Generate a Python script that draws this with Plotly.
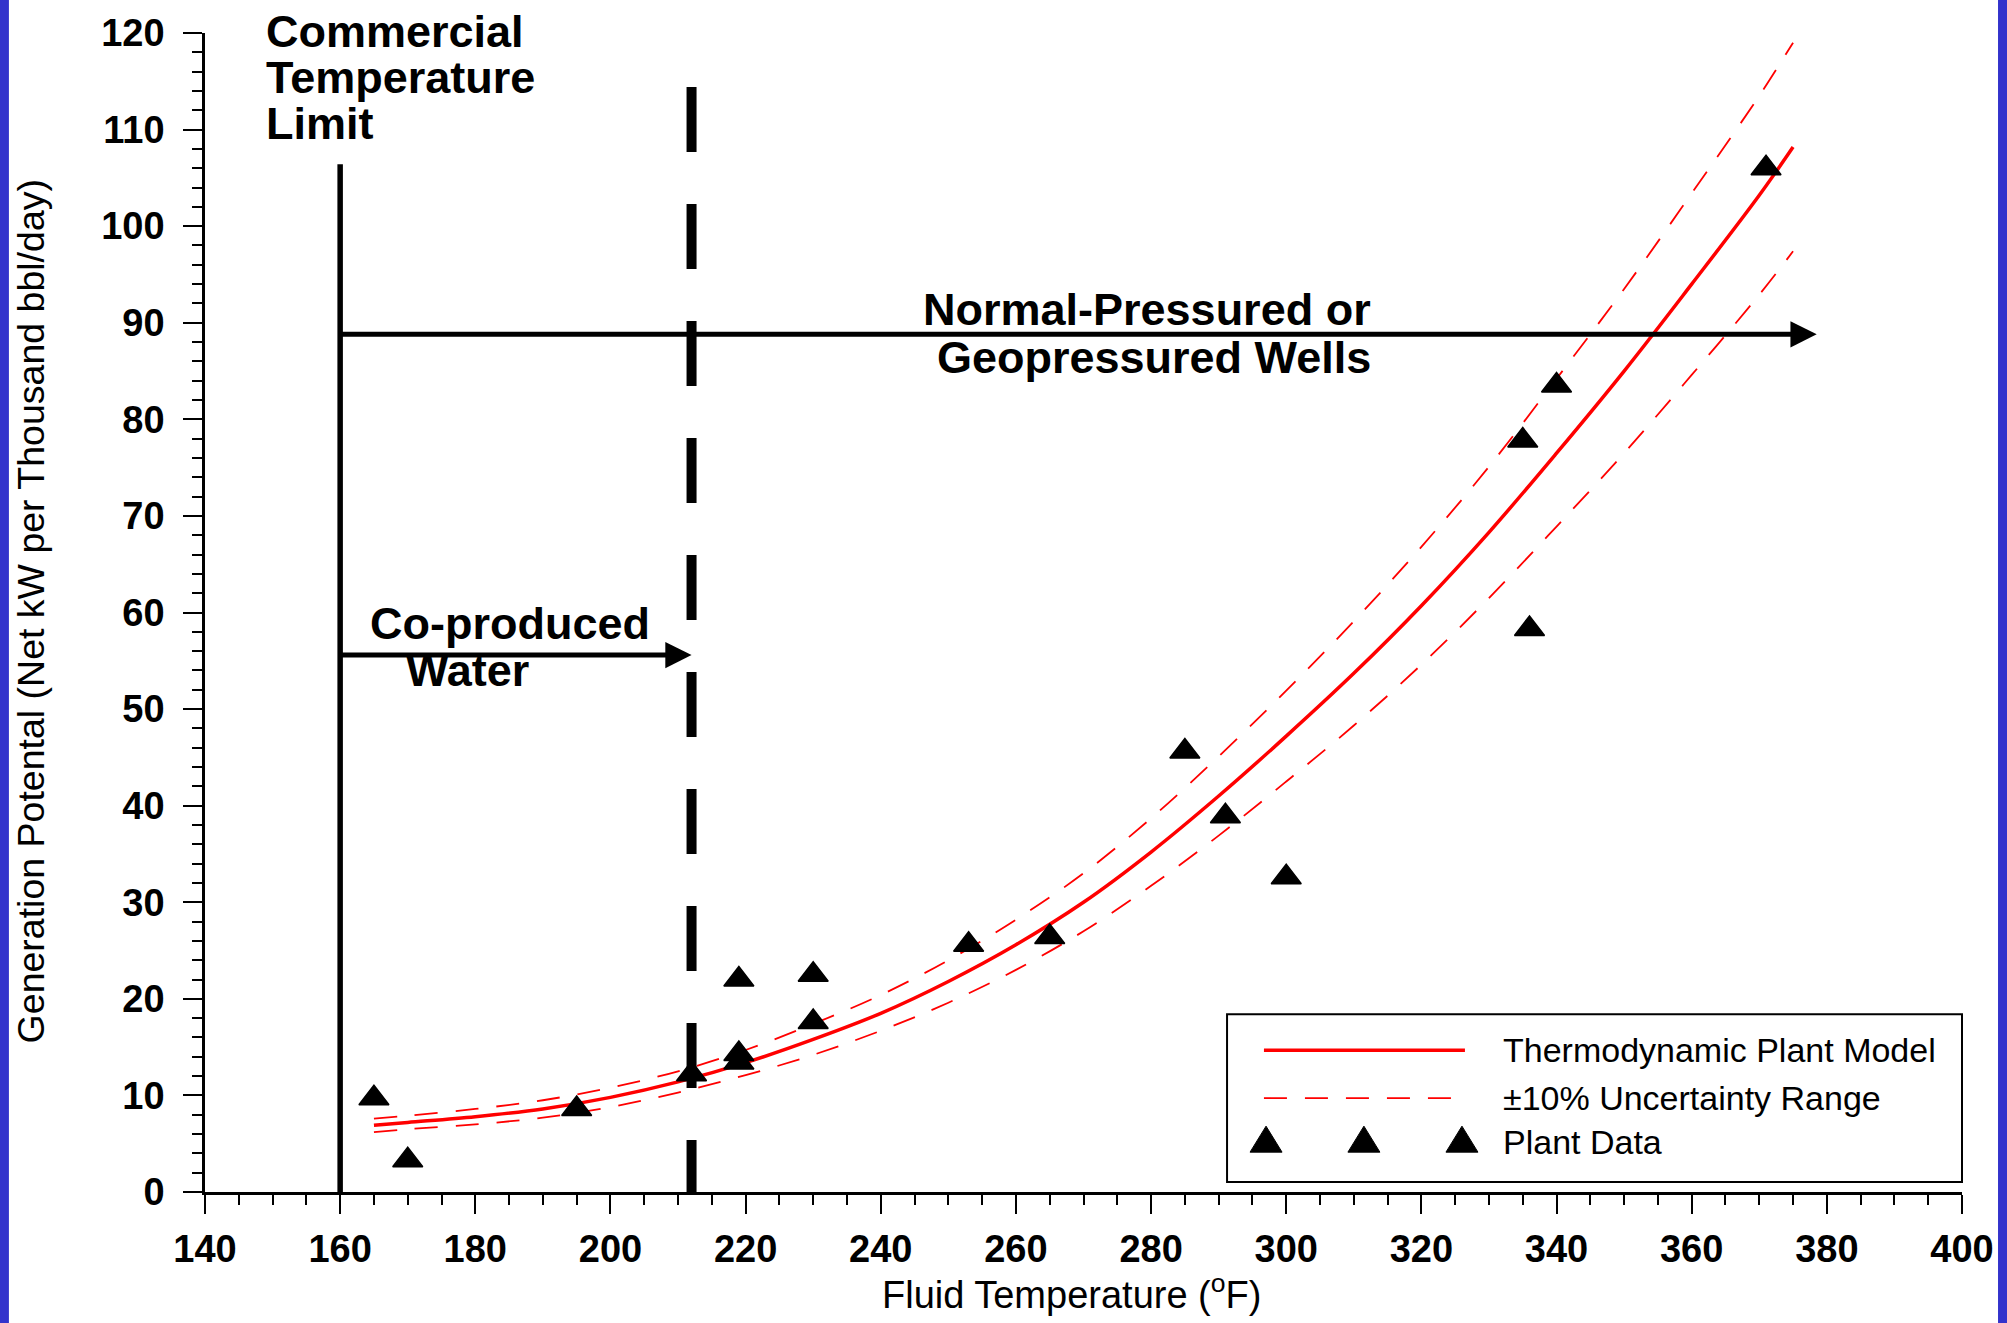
import plotly.graph_objects as go

# ---------------- data ----------------
model_temp_f = [165, 170, 180, 190, 200, 210, 220, 230, 240, 250, 260, 270,
                280, 290, 300, 310, 320, 330, 340, 350, 360, 370, 375]
model_power = [6.9, 7.2, 7.8, 8.6, 9.8, 11.4, 13.4, 15.8, 18.5, 21.8, 25.6, 30.0,
               35.2, 41.0, 47.2, 53.7, 60.7, 68.3, 76.5, 85.0, 94.0, 103.2, 108.2]
upper_power = [7.6, 7.9, 8.6, 9.5, 10.8, 12.5, 14.7, 17.4, 20.4, 24.0, 28.2, 33.0,
               38.7, 45.1, 51.9, 59.1, 66.8, 75.1, 84.2, 93.5, 103.4, 113.5, 119.0]
lower_power = [6.2, 6.5, 7.0, 7.7, 8.8, 10.3, 12.1, 14.2, 16.7, 19.6, 23.0, 27.0,
               31.7, 36.9, 42.5, 48.3, 54.6, 61.5, 68.9, 76.5, 84.6, 92.9, 97.4]

plant_temp_f = [165, 170, 195, 212, 219, 219, 219, 230, 230, 253, 265,
                285, 291, 300, 335, 336, 340, 371]
plant_power = [9.7, 3.3, 8.6, 12.2, 22.0, 14.3, 13.4, 22.5, 17.6, 25.6, 26.4,
               45.6, 38.9, 32.6, 77.8, 58.3, 83.5, 106.0]

x_ticks = [140, 160, 180, 200, 220, 240, 260, 280, 300, 320, 340, 360, 380, 400]
y_ticks = [0, 10, 20, 30, 40, 50, 60, 70, 80, 90, 100, 110, 120]

commercial_limit_f = 160
commercial_line_top = 106.4
boiling_f = 212
boiling_line_top = 114.4
coproduced_arrow_y = 55.6
wells_arrow_y = 88.8
wells_arrow_end_f = 378.5

FONT = "Liberation Sans, Arial, sans-serif"
RED = "#FF0000"
BLUE = "#3333CC"

fig = go.Figure()

fig.add_trace(go.Scatter(x=model_temp_f, y=upper_power, mode="lines",
                         line=dict(color=RED, width=1.8, dash="23px,18px", shape="spline"),
                         name="+10%"))
fig.add_trace(go.Scatter(x=model_temp_f, y=lower_power, mode="lines",
                         line=dict(color=RED, width=1.8, dash="23px,18px", shape="spline"),
                         name="-10%"))
fig.add_trace(go.Scatter(x=model_temp_f, y=model_power, mode="lines",
                         line=dict(color=RED, width=3.5, shape="spline"),
                         name="Thermodynamic Plant Model"))
fig.add_trace(go.Scatter(x=plant_temp_f, y=plant_power, mode="markers",
                         marker=dict(symbol="triangle-up", size=26, color="black",
                                     line=dict(color="black", width=1.5)),
                         name="Plant Data"))

shapes = []
# reference lines
shapes.append(dict(type="line", xref="x", yref="y", x0=commercial_limit_f, x1=commercial_limit_f,
                   y0=0, y1=commercial_line_top, line=dict(color="black", width=5.5), layer="below"))
shapes.append(dict(type="line", xref="x", yref="y", x0=boiling_f, x1=boiling_f,
                   y0=boiling_line_top, y1=0, line=dict(color="black", width=10, dash="65px,52px"),
                   layer="below"))
# blue side stripes
shapes.append(dict(type="rect", xref="paper", yref="paper", x0=-0.125, x1=-0.1116,
                   y0=-0.3, y1=1.3, fillcolor=BLUE, line=dict(width=0), layer="above"))
shapes.append(dict(type="rect", xref="paper", yref="paper", x0=1.0205, x1=1.06,
                   y0=-0.3, y1=1.3, fillcolor=BLUE, line=dict(width=0), layer="above"))
# custom legend
shapes.append(dict(type="rect", xref="paper", yref="paper", x0=0.5817, x1=1.0,
                   y0=0.0086, y1=0.1533, fillcolor="white", line=dict(color="black", width=2),
                   layer="above"))
shapes.append(dict(type="line", xref="paper", yref="paper", x0=0.6027, x1=0.7171,
                   y0=0.1223, y1=0.1223, line=dict(color=RED, width=3.5), layer="above"))
shapes.append(dict(type="line", xref="paper", yref="paper", x0=0.6027, x1=0.7100,
                   y0=0.0810, y1=0.0810, line=dict(color=RED, width=1.8, dash="23px,18px"),
                   layer="above"))
for xp in [0.6039, 0.6596, 0.7154]:
    shapes.append(dict(type="path", xref="paper", yref="paper", xsizemode="pixel",
                       ysizemode="pixel", xanchor=xp, yanchor=0.0456,
                       path="M-16,-13 L16,-13 L0,13 Z", fillcolor="black",
                       line=dict(color="black", width=1), layer="above"))

bold = dict(family=FONT, size=45, color="black", weight="bold")
label_x_paper = (148.9 - 140) / 260.0
annotations = [
    dict(text="Commercial", x=label_x_paper, y=1.0009, xref="paper", yref="paper",
         xanchor="left", yanchor="middle", showarrow=False, font=bold, borderpad=0),
    dict(text="Temperature", x=label_x_paper, y=0.9613, xref="paper", yref="paper",
         xanchor="left", yanchor="middle", showarrow=False, font=bold, borderpad=0),
    dict(text="Limit", x=label_x_paper, y=0.9217, xref="paper", yref="paper",
         xanchor="left", yanchor="middle", showarrow=False, font=bold, borderpad=0),
    dict(text="Co-produced", x=185.1, y=58.9, xref="x", yref="y", xanchor="center",
         yanchor="middle", showarrow=False, font=bold, borderpad=0),
    dict(text="Water", x=178.9, y=53.95, xref="x", yref="y", xanchor="center",
         yanchor="middle", showarrow=False, font=bold, borderpad=0),
    dict(text="Normal-Pressured or", x=312.7, y=91.4, xref="x", yref="y", xanchor="right",
         yanchor="middle", showarrow=False, font=bold, borderpad=0),
    dict(text="Geopressured Wells", x=312.7, y=86.45, xref="x", yref="y", xanchor="right",
         yanchor="middle", showarrow=False, font=bold, borderpad=0),
    # arrows
    dict(text="", x=boiling_f, y=coproduced_arrow_y, ax=commercial_limit_f, ay=coproduced_arrow_y,
         xref="x", yref="y", axref="x", ayref="y", showarrow=True, arrowhead=2,
         arrowsize=1.05, arrowwidth=5, arrowcolor="black", standoff=0),
    dict(text="", x=wells_arrow_end_f, y=wells_arrow_y, ax=commercial_limit_f, ay=wells_arrow_y,
         xref="x", yref="y", axref="x", ayref="y", showarrow=True, arrowhead=2,
         arrowsize=1.05, arrowwidth=5, arrowcolor="black", standoff=0),
    # axis titles
    dict(text="Generation Potental (Net kW per Thousand bbl/day)", textangle=-90,
         x=-0.099, y=0.5010, xref="paper", yref="paper", xanchor="center", yanchor="middle",
         showarrow=False, font=dict(family=FONT, size=37.5, color="black")),
    dict(text="Fluid Temperature (<sup>o</sup>F)", x=0.4929, y=-0.0861, xref="paper",
         yref="paper", xanchor="center", yanchor="middle", showarrow=False,
         font=dict(family=FONT, size=38, color="black")),
    # legend labels
    dict(text="Thermodynamic Plant Model", x=0.7376, y=0.1223, xref="paper", yref="paper",
         xanchor="left", yanchor="middle", showarrow=False,
         font=dict(family=FONT, size=34, color="black")),
    dict(text="±10% Uncertainty Range", x=0.7376, y=0.0810, xref="paper", yref="paper",
         xanchor="left", yanchor="middle", showarrow=False,
         font=dict(family=FONT, size=34, color="black")),
    dict(text="Plant Data", x=0.7376, y=0.0431, xref="paper", yref="paper",
         xanchor="left", yanchor="middle", showarrow=False,
         font=dict(family=FONT, size=34, color="black")),
]

tickfont = dict(family=FONT, size=38, color="black", weight="bold")
fig.update_layout(
    width=2007, height=1323,
    margin=dict(l=205, r=45, t=31, b=131),
    paper_bgcolor="white", plot_bgcolor="white",
    showlegend=False,
    font=dict(family=FONT, color="black"),
    shapes=shapes, annotations=annotations,
    xaxis=dict(range=[140, 400], tickvals=x_ticks, ticktext=[str(v) for v in x_ticks],
               showline=True, linecolor="black", linewidth=2.5, ticks="outside",
               ticklen=19, tickwidth=2, tickcolor="black", tickfont=tickfont,
               ticklabelstandoff=3, showgrid=False, zeroline=False,
               minor=dict(dtick=5, tick0=140, ticks="outside", ticklen=10, tickwidth=2,
                          tickcolor="black", showgrid=False)),
    yaxis=dict(range=[0, 120], tickvals=y_ticks, ticktext=[str(v) for v in y_ticks],
               showline=True, linecolor="black", linewidth=2.5, ticks="outside",
               ticklen=19, tickwidth=2, tickcolor="black", tickfont=tickfont,
               ticklabelstandoff=11, showgrid=False, zeroline=False,
               minor=dict(dtick=2, tick0=0, ticks="outside", ticklen=10, tickwidth=2,
                          tickcolor="black", showgrid=False)),
)

fig.write_html("out.html")
